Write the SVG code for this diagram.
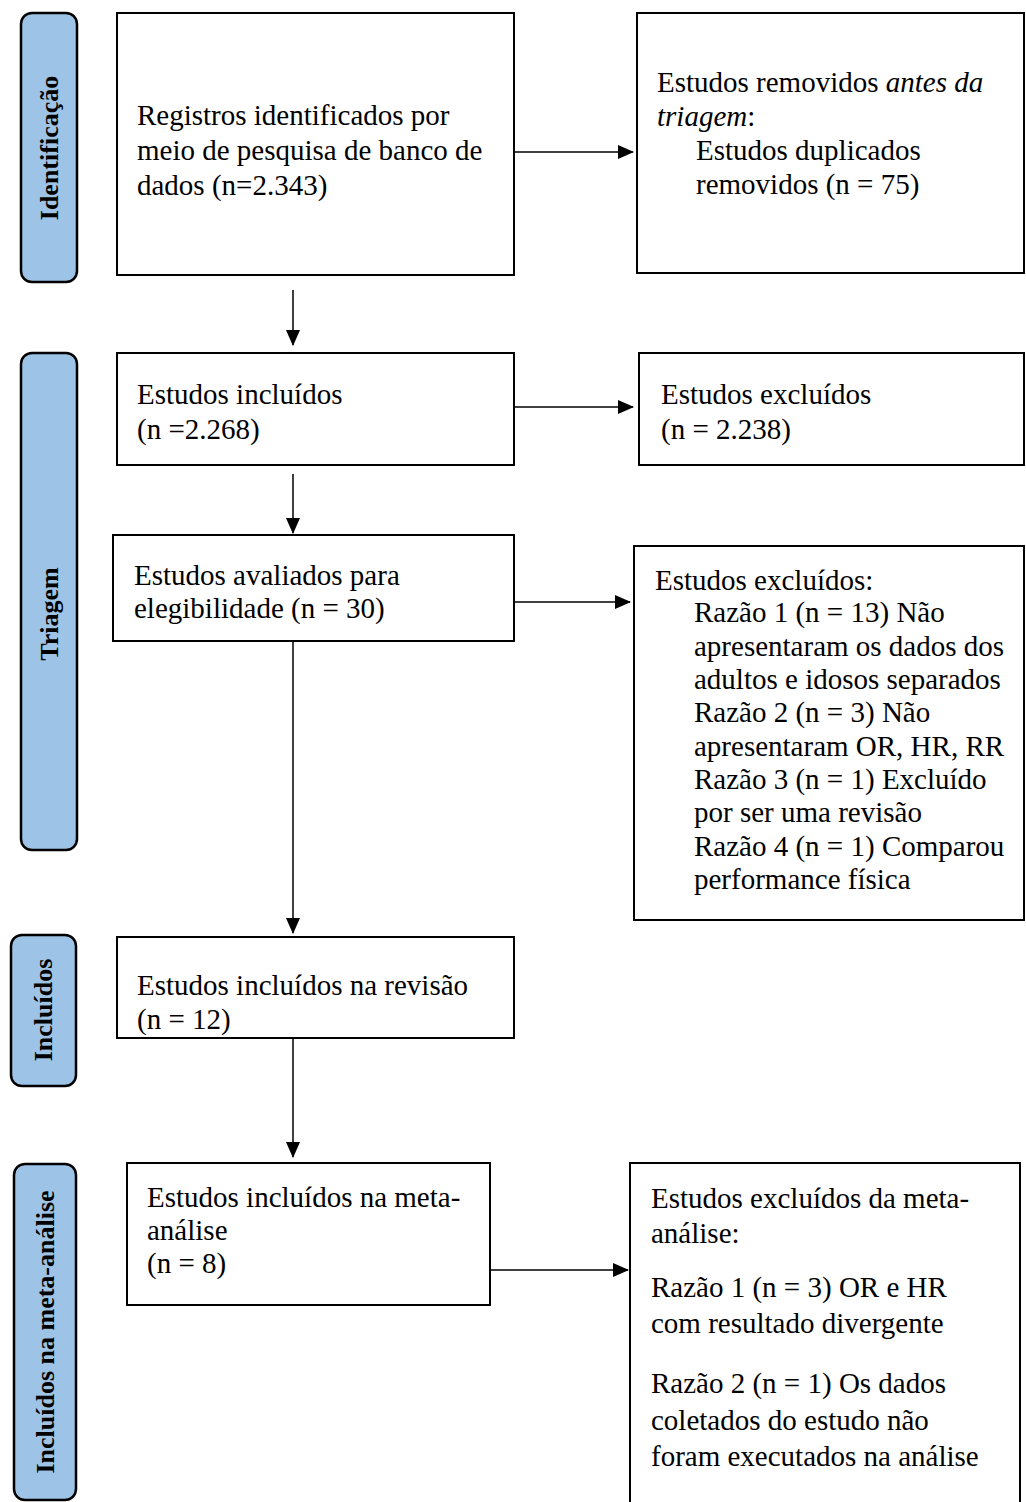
<svg xmlns="http://www.w3.org/2000/svg" width="1026" height="1502" viewBox="0 0 1026 1502">
<defs>
<style>
.box{fill:#fff;stroke:#000;stroke-width:2}
.side{fill:#9DC3E6;stroke:#000;stroke-width:2.5}
.t{font-family:"Liberation Serif","Times New Roman",serif;font-size:29px;fill:#000}
.s{font-family:"Liberation Serif","Times New Roman",serif;font-size:26px;font-weight:bold;fill:#000;text-anchor:middle;dominant-baseline:central}
.c{stroke:#000;stroke-width:1.5;fill:none;marker-end:url(#ah)}
</style>
<marker id="ah" markerUnits="userSpaceOnUse" markerWidth="16" markerHeight="14" refX="15" refY="7" orient="auto">
<path d="M0,0 L16,7 L0,14 Z" fill="#000"/>
</marker>
</defs>
<rect width="1026" height="1502" fill="#fff"/>

<g id="stage-identificacao">
<rect class="side" x="21" y="13" width="56" height="269" rx="11"/>
<text class="s" transform="translate(49,148) rotate(-90)">Identificação</text>
</g>
<g id="stage-triagem">
<rect class="side" x="21" y="353" width="56" height="497" rx="11"/>
<text class="s" transform="translate(49,614) rotate(-90)">Triagem</text>
</g>
<g id="stage-incluidos">
<rect class="side" x="11" y="935" width="65" height="151" rx="11"/>
<text class="s" transform="translate(43,1010) rotate(-90)">Incluídos</text>
</g>
<g id="stage-meta">
<rect class="side" x="14" y="1164" width="62" height="336" rx="11"/>
<text class="s" transform="translate(45,1332) rotate(-90)">Incluídos na meta-análise</text>
</g>

<g id="connectors">
<line class="c" x1="514" y1="152" x2="633" y2="152"/>
<line class="c" x1="293" y1="290" x2="293" y2="345"/>
<line class="c" x1="514" y1="407" x2="633" y2="407"/>
<line class="c" x1="293" y1="474" x2="293" y2="533"/>
<line class="c" x1="514" y1="602" x2="630" y2="602"/>
<line class="c" x1="293" y1="641" x2="293" y2="933"/>
<line class="c" x1="293" y1="1038" x2="293" y2="1157"/>
<line class="c" x1="490" y1="1270" x2="628" y2="1270"/>
</g>

<g id="n1">
<rect class="box" x="117" y="13" width="397" height="262"/>
<text class="t" x="137" y="125">Registros identificados por</text>
<text class="t" x="137" y="160">meio de pesquisa de banco de</text>
<text class="t" x="137" y="195">dados (n=2.343)</text>
</g>
<g id="n2">
<rect class="box" x="637" y="13" width="387" height="260"/>
<text class="t" x="657" y="92">Estudos removidos <tspan font-style="italic">antes da</tspan></text>
<text class="t" x="657" y="126"><tspan font-style="italic">triagem</tspan>:</text>
<text class="t" x="696" y="160">Estudos duplicados</text>
<text class="t" x="696" y="194">removidos (n = 75)</text>
</g>
<g id="n3">
<rect class="box" x="117" y="353" width="397" height="112"/>
<text class="t" x="137" y="404">Estudos incluídos</text>
<text class="t" x="137" y="439">(n =2.268)</text>
</g>
<g id="n4">
<rect class="box" x="639" y="353" width="385" height="112"/>
<text class="t" x="661" y="404">Estudos excluídos</text>
<text class="t" x="661" y="439">(n = 2.238)</text>
</g>
<g id="n5">
<rect class="box" x="113" y="535" width="401" height="106"/>
<text class="t" x="134" y="585">Estudos avaliados para</text>
<text class="t" x="134" y="618">elegibilidade (n = 30)</text>
</g>
<g id="n6">
<rect class="box" x="634" y="546" width="390" height="374"/>
<text class="t" x="655" y="590">Estudos excluídos:</text>
<text class="t" x="694" y="622">Razão 1 (n = 13) Não</text>
<text class="t" x="694" y="656">apresentaram os dados dos</text>
<text class="t" x="694" y="689">adultos e idosos separados</text>
<text class="t" x="694" y="722">Razão 2 (n = 3) Não</text>
<text class="t" x="694" y="756">apresentaram OR, HR, RR</text>
<text class="t" x="694" y="789">Razão 3 (n = 1) Excluído</text>
<text class="t" x="694" y="822">por ser uma revisão</text>
<text class="t" x="694" y="856">Razão 4 (n = 1) Comparou</text>
<text class="t" x="694" y="889">performance física</text>
</g>
<g id="n7">
<rect class="box" x="117" y="937" width="397" height="101"/>
<text class="t" x="137" y="995">Estudos incluídos na revisão</text>
<text class="t" x="137" y="1029">(n = 12)</text>
</g>
<g id="n8">
<rect class="box" x="127" y="1163" width="363" height="142"/>
<text class="t" x="147" y="1207">Estudos incluídos na meta-</text>
<text class="t" x="147" y="1240">análise</text>
<text class="t" x="147" y="1273">(n = 8)</text>
</g>
<g id="n9">
<rect class="box" x="630" y="1163" width="390" height="345"/>
<text class="t" x="651" y="1208">Estudos excluídos da meta-</text>
<text class="t" x="651" y="1243">análise:</text>
<text class="t" x="651" y="1297">Razão 1 (n = 3) OR e HR</text>
<text class="t" x="651" y="1333">com resultado divergente</text>
<text class="t" x="651" y="1393">Razão 2 (n = 1) Os dados</text>
<text class="t" x="651" y="1430">coletados do estudo não</text>
<text class="t" x="651" y="1466">foram executados na análise</text>
</g>
</svg>
